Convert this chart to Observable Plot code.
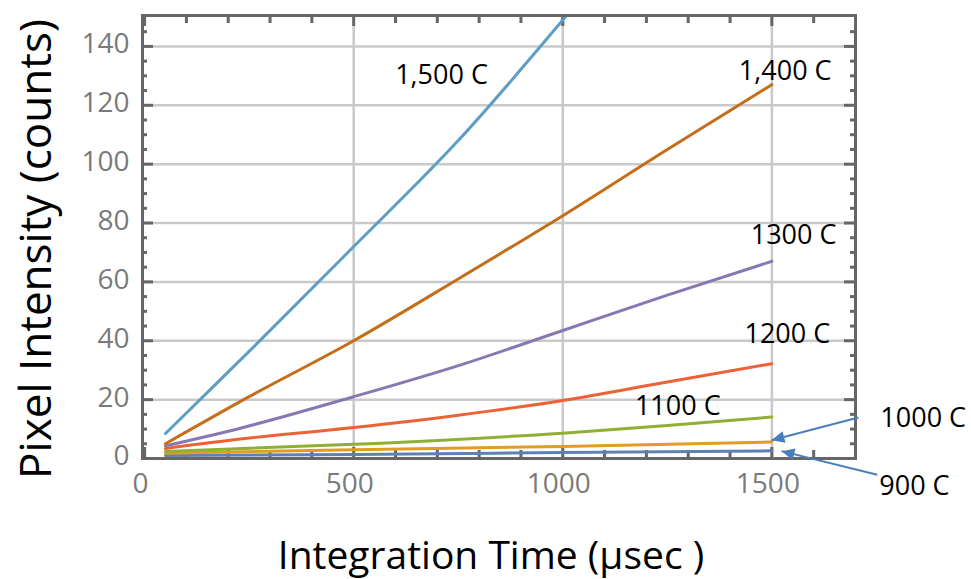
<!DOCTYPE html>
<html>
<head>
<meta charset="utf-8">
<script src="https://cdn.jsdelivr.net/npm/d3@7"></script>
<script src="https://cdn.jsdelivr.net/npm/@observablehq/plot@0.6"></script>
<style>
  html, body { margin: 0; padding: 0; background: white; }
  #chart { width: 971px; height: 579px; }
</style>
</head>
<body>
<div id="chart"></div>
<script>
// ---- data ----
const t1500 = [50, 140, 265, 500, 750, 1008];
const v1500 = [8.5, 21, 38.5, 72, 108, 150.3];
const t1400 = [50, 250, 500, 750, 1000, 1250, 1500];
const v1400 = [5.0, 21, 40, 61, 82.5, 105, 127];
const t1300 = [50, 229, 500, 760, 1000, 1250, 1500];
const v1300 = [4.3, 10.3, 21, 32, 43.5, 55.5, 67];
const t1200 = [50, 229, 500, 750, 1000, 1250, 1500];
const v1200 = [3.4, 6.6, 10.5, 14.7, 19.7, 26, 32.2];
const t1100 = [50, 500, 1000, 1250, 1500];
const v1100 = [2.4, 4.8, 8.6, 11.2, 14.1];
const t1000 = [50, 500, 1000, 1500];
const v1000 = [1.8, 3.0, 4.1, 5.6];
const t900 = [50, 500, 1000, 1500];
const v900 = [1.0, 1.4, 2.0, 2.6];

const seriesNames = ["900 C", "1000 C", "1100 C", "1200 C", "1300 C", "1400 C", "1500 C"];
const seriesColors = ["#5E81B5", "#E19C24", "#8FB032", "#EB6235", "#8778B3", "#C56E1A", "#5D9EC7"];

const xTickValues = [0, 500, 1000, 1500];
const yTickValues = [0, 20, 40, 60, 80, 100, 120, 140];
const xGridValues = [500, 1000, 1500];
const yGridValues = [20, 40, 60, 80, 100, 120, 140];
const xMinorTicks = [100, 200, 300, 400, 600, 700, 800, 900, 1100, 1200, 1300, 1400, 1600];
const yMinorTicks = [5, 10, 15, 25, 30, 35, 45, 50, 55, 65, 70, 75, 85, 90, 95, 105, 110, 115, 125, 130, 135, 145];

// annotation labels (text, anchor x/y in data units, baseline)
const labelText = ["1,500 C", "1,400 C", "1300 C", "1200 C", "1100 C", "1000 C", "900 C"];
const labelX = [710, 1532, 1552, 1537, 1275, 1862, 1841];
const labelY = [127.3, 128.7, 73, 39.2, 14.9, 10.7, -12.5];

// arrows from outside labels to line ends
const arrowX1 = [1707, 1752];
const arrowY1 = [13.9, -5.5];
const arrowX2 = [1499, 1523];
const arrowY2 = [6.2, 2.5];

const xTitle = "Integration Time (µsec )";
const yTitle = "Pixel Intensity (counts)";

// ---- build tables ----
const allT = [t900, t1000, t1100, t1200, t1300, t1400, t1500];
const allV = [v900, v1000, v1100, v1200, v1300, v1400, v1500];
const rows = [];
allT.forEach((ts, i) => ts.forEach((t, j) => rows.push({series: seriesNames[i], t, v: allV[i][j]})));
const labels = labelText.map((text, i) => ({text, x: labelX[i], y: labelY[i]}));
const arrows = arrowX1.map((x1, i) => ({x1, y1: arrowY1[i], x2: arrowX2[i], y2: arrowY2[i]}));

const W = 971, H = 579;
const mTop = 15, mBottom = 121, mLeft = 142, mRight = 116;
const frameH = H - mTop - mBottom;
const frameW = W - mLeft - mRight;
const axisColor = "#666";

const chart = Plot.plot({
  width: W,
  height: H,
  marginTop: mTop,
  marginBottom: mBottom,
  marginLeft: mLeft,
  marginRight: mRight,
  style: {fontFamily: "'Open Sans', sans-serif", background: "white", overflow: "visible"},
  x: {domain: [-5, 1700]},
  y: {domain: [0, 150.5]},
  color: {domain: seriesNames, range: seriesColors},
  marks: [
    Plot.gridX(xGridValues, {stroke: "#c9c9c9", strokeOpacity: 1, strokeWidth: 2.5}),
    Plot.gridY(yGridValues, {stroke: "#c9c9c9", strokeOpacity: 1, strokeWidth: 2.5}),
    // minor and major ticks, drawn inward on all four sides
    Plot.tickX(xMinorTicks, {x: d => d, insetBottom: frameH - 8, stroke: axisColor, strokeWidth: 3}),
    Plot.tickX(xMinorTicks, {x: d => d, insetTop: frameH - 8, stroke: axisColor, strokeWidth: 3}),
    Plot.tickX(xTickValues, {x: d => d, insetBottom: frameH - 11, stroke: axisColor, strokeWidth: 3}),
    Plot.tickX(xTickValues, {x: d => d, insetTop: frameH - 11, stroke: axisColor, strokeWidth: 3}),
    Plot.tickY(yMinorTicks, {y: d => d, insetRight: frameW - 5, stroke: axisColor, strokeWidth: 3}),
    Plot.tickY(yMinorTicks, {y: d => d, insetLeft: frameW - 5, stroke: axisColor, strokeWidth: 3}),
    Plot.tickY(yTickValues, {y: d => d, insetRight: frameW - 11, stroke: axisColor, strokeWidth: 3}),
    Plot.tickY(yTickValues, {y: d => d, insetLeft: frameW - 11, stroke: axisColor, strokeWidth: 3}),
    Plot.line(rows, {x: "t", y: "v", z: "series", stroke: "series", strokeWidth: 3, curve: "monotone-x"}),
    Plot.frame({stroke: axisColor, strokeWidth: 3}),
    Plot.axisX({ticks: xTickValues, tickSize: 0, tickPadding: 15, dx: -4, fontSize: 28, color: "#7a7a7a", tickFormat: d => String(d), label: null}),
    Plot.axisY({ticks: yTickValues, tickSize: 0, tickPadding: 13, dy: -2, fontSize: 28, color: "#7a7a7a", tickFormat: d => String(d), label: null}),
    Plot.text(labels, {x: "x", y: "y", text: "text", fontSize: 27, fill: "black", textAnchor: "middle", lineAnchor: "bottom"}),
    Plot.link(arrows, {x1: "x1", y1: "y1", x2: "x2", y2: "y2", stroke: "#4a7ebb", strokeWidth: 2, markerEnd: "arrow"}),
    Plot.text([xTitle], {text: d => d, frameAnchor: "bottom", textAnchor: "middle", dx: -8, dy: 110, lineAnchor: "bottom", fontSize: 39, fill: "black"}),
    Plot.text([yTitle], {text: d => d, frameAnchor: "left", textAnchor: "middle", rotate: -90, dx: -92, dy: 12, lineAnchor: "bottom", fontSize: 44, fill: "black"})
  ]
});

// turn arrow markers into filled triangular heads
chart.querySelectorAll("marker").forEach(m => {
  const col = m.getAttribute("stroke") || "#4a7ebb";
  m.setAttribute("viewBox", "-10 -5 10 10");
  m.setAttribute("markerWidth", 7.5);
  m.setAttribute("markerHeight", 6.5);
  m.setAttribute("fill", col);
  m.setAttribute("stroke", "none");
  m.innerHTML = "";
  const p = document.createElementNS("http://www.w3.org/2000/svg", "path");
  p.setAttribute("d", "M-10,-4.5L0,0L-10,4.5Z");
  m.appendChild(p);
});

document.getElementById("chart").appendChild(chart);
</script>
</body>
</html>
